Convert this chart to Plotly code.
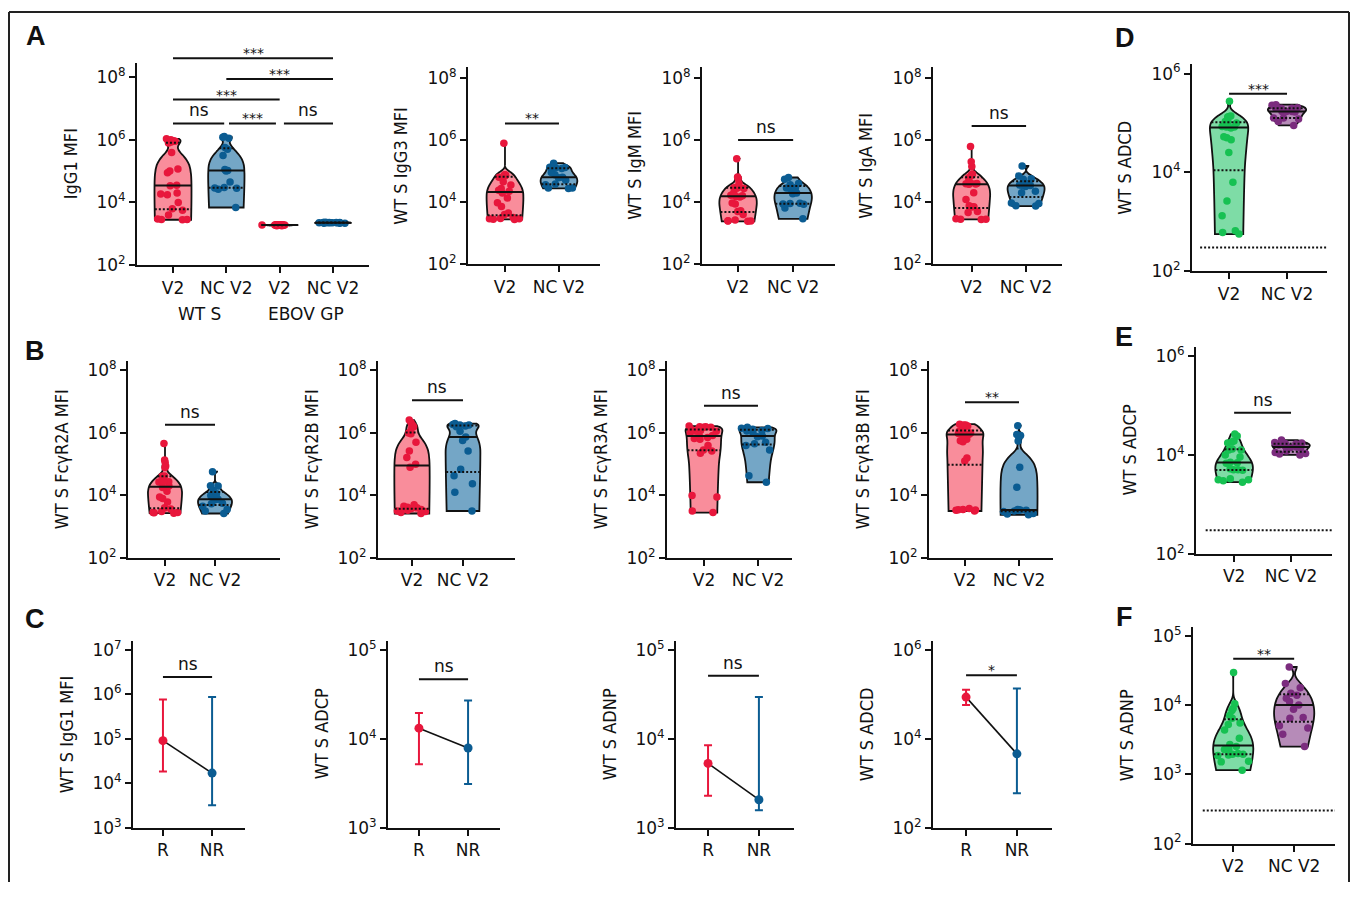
import numpy as np
import plotly.graph_objects as go

# page is 1358x900; the html body has an 8px margin on every side, so the figure
# itself is drawn in a 1342x884 box that starts 8px from the page's top-left corner
W, H = 1358, 900
OFF = 8
FW, FH = W - 2 * OFF, H - 2 * OFF

# ------------------------------------------------------------------
# DATA  (log10 of the plotted value)
# ------------------------------------------------------------------
CAT_V2 = ["V2", "NC V2"]
CAT_A1 = ["V2", "NC V2", "V2", "NC V2"]
CAT_C = ["R", "NR"]
A1_GROUP_LABELS = ["WT S", "EBOV GP"]

A_IGG1_WTS_V2 = [6.03, 6.0, 5.97, 5.95, 5.95, 5.93, 5.9, 5.59, 5.07, 5.0, 4.95, 4.55,
                 4.53, 4.3, 4.27, 4.25, 4.0, 3.8, 3.75, 3.6, 3.47, 3.46, 3.46, 3.45]
A_IGG1_WTS_NC = [6.1, 6.08, 6.05, 5.75, 5.7, 5.5, 5.05, 5.02, 5.0, 4.65, 4.48, 4.46, 4.45, 4.42, 3.84]
A_IGG1_EBOV_V2 = [3.27, 3.28, 3.29, 3.27, 3.28, 3.26, 3.29, 3.28, 3.27, 3.28, 3.29, 3.28,
                  3.27, 3.28, 3.26, 3.28, 3.29, 3.27, 3.28, 3.28, 3.27, 3.28, 3.29, 3.28]
A_IGG1_EBOV_NC = [3.35, 3.36, 3.34, 3.35, 3.36, 3.35, 3.37, 3.35, 3.34, 3.36, 3.35, 3.36, 3.35, 3.34, 3.36]
A_IGG3_V2 = [5.89, 4.88, 4.87, 4.86, 4.85, 4.84, 4.8, 4.65, 4.55, 4.44, 4.38, 4.35,
             4.29, 4.13, 3.98, 3.86, 3.65, 3.6, 3.5, 3.47, 3.46, 3.45, 3.46, 3.44]
A_IGG3_NC = [5.25, 5.12, 5.11, 5.1, 5.08, 4.95, 4.88, 4.8, 4.78, 4.7, 4.58, 4.56, 4.45, 4.44, 4.45]
A_IGM_V2 = [5.39, 4.81, 4.76, 4.6, 4.47, 4.46, 4.46, 4.45, 4.44, 4.3, 4.22, 4.2,
            4.18, 4.16, 3.97, 3.94, 3.72, 3.7, 3.6, 3.42, 3.4, 3.39, 3.39, 3.38]
A_IGM_NC = [4.79, 4.73, 4.6, 4.56, 4.46, 4.45, 4.44, 4.29, 4.27, 3.96, 3.95, 3.94, 3.93, 3.81, 3.46]
A_IGA_V2 = [5.79, 5.3, 5.14, 4.9, 4.87, 4.85, 4.78, 4.62, 4.6, 4.6, 4.59, 4.58,
            4.57, 4.3, 4.08, 3.88, 3.85, 3.84, 3.7, 3.66, 3.46, 3.45, 3.45, 3.44]
A_IGA_NC = [5.16, 4.84, 4.75, 4.73, 4.6, 4.55, 4.54, 4.53, 4.5, 4.35, 4.3, 3.97, 3.95, 3.88, 3.87]

B_R2A_V2 = [5.66, 5.13, 5.05, 4.94, 4.89, 4.62, 4.61, 4.45, 4.44, 4.44, 4.43, 4.3,
            4.25, 4.13, 3.95, 3.9, 3.79, 3.6, 3.56, 3.48, 3.45, 3.44, 3.45, 3.43]
B_R2A_NC = [4.76, 4.31, 4.3, 4.16, 4.05, 4.0, 3.96, 3.88, 3.85, 3.75, 3.73, 3.65, 3.55, 3.5, 3.42]
B_R2B_V2 = [6.41, 6.33, 6.25, 6.2, 6.18, 6.05, 6.0, 5.97, 5.7, 5.42, 5.21, 5.0,
            4.9, 3.7, 3.65, 3.62, 3.6, 3.58, 3.55, 3.52, 3.5, 3.48, 3.45, 3.42]
B_R2B_NC = [6.3, 6.27, 6.25, 6.25, 6.22, 6.2, 6.05, 5.87, 5.76, 5.42, 4.84, 4.63, 4.37, 4.1, 3.5]
B_R3A_V2 = [6.22, 6.2, 6.2, 6.18, 6.18, 6.15, 6.1, 6.08, 6.05, 6.05, 6.0, 5.92,
            5.88, 5.85, 5.82, 5.8, 5.6, 5.45, 5.42, 5.35, 4.0, 3.95, 3.5, 3.45]
B_R3A_NC = [6.18, 6.15, 6.14, 6.12, 6.08, 6.06, 6.0, 5.9, 5.88, 5.7, 5.65, 5.6, 5.45, 4.63, 4.42]
B_R3B_V2 = [6.28, 6.25, 6.25, 6.22, 6.2, 6.15, 6.05, 6.02, 6.0, 6.0, 5.98, 5.96,
            5.94, 5.8, 5.75, 5.72, 5.2, 5.1, 3.58, 3.55, 3.53, 3.52, 3.5, 3.54]
B_R3B_NC = [6.23, 5.95, 5.92, 5.74, 4.9, 4.26, 3.55, 3.53, 3.53, 3.52, 3.5, 3.48, 3.42, 3.4, 3.38]

D_ADCD_V2 = [5.44, 5.14, 5.13, 5.12, 5.03, 5.02, 5.0, 4.93, 4.93, 4.92, 4.92,
             4.9, 4.72, 4.7, 4.66, 4.4, 3.8, 3.42, 3.12, 2.82, 2.78, 2.75]
D_ADCD_NC = [5.37, 5.36, 5.31, 5.3, 5.3, 5.3, 5.23, 5.23, 5.23, 5.22, 5.1, 5.1, 5.08, 5.03, 4.95]
E_ADCP_V2 = [4.42, 4.38, 4.28, 4.26, 4.24, 4.12, 4.1, 4.1, 4.0, 3.96, 3.85,
             3.84, 3.83, 3.72, 3.7, 3.7, 3.69, 3.52, 3.5, 3.5, 3.48, 3.45]
E_ADCP_NC = [4.3, 4.25, 4.24, 4.23, 4.22, 4.2, 4.18, 4.16, 4.15, 4.14, 4.08, 4.05, 4.03, 4.02, 4.0]
F_ADNP_V2 = [4.47, 4.02, 3.95, 3.92, 3.85, 3.81, 3.74, 3.72, 3.64, 3.52, 3.43,
             3.4, 3.36, 3.36, 3.3, 3.29, 3.29, 3.28, 3.27, 3.19, 3.18, 3.06]
F_ADNP_NC = [4.55, 4.31, 4.25, 4.17, 4.14, 4.1, 4.05, 4.0, 3.94, 3.82, 3.81, 3.7, 3.67, 3.58, 3.4]

# Panel C: point estimate, lower and upper ends of error bar, [R, NR] (raw values)
C_IGG1_MID = [9.1e4, 1.7e4]
C_IGG1_LO = [1.85e4, 3.2e3]
C_IGG1_HI = [7.7e5, 8.7e5]
C_ADCP_MID = [1.32e4, 7.9e3]
C_ADCP_LO = [5.2e3, 3.1e3]
C_ADCP_HI = [1.95e4, 2.7e4]
C_ADNP_MID = [5.3e3, 2.07e3]
C_ADNP_LO = [2.3e3, 1.58e3]
C_ADNP_HI = [8.5e3, 2.95e4]
C_ADCD_MID = [8.7e4, 4.6e3]
C_ADCD_LO = [5.8e4, 600]
C_ADCD_HI = [1.27e5, 1.35e5]

LOD = 300  # dotted limit-of-detection line in D, E, F

# ------------------------------------------------------------------
# STYLE
# ------------------------------------------------------------------
COL = {
    "red": ("#E8173C", "#F98D9B"),
    "blue": ("#0B5C92", "#74A6C6"),
    "green": ("#16C152", "#7EDCA6"),
    "purple": ("#7B2C7E", "#B68BB8"),
}
TICK_FONT = dict(family="DejaVu Sans, Arial, sans-serif", size=17, color="#111")
TITLE_FONT = dict(family="Liberation Sans Narrow, DejaVu Sans Condensed, Arial Narrow, sans-serif",
                  size=18, color="#111")
LETTER_FONT = dict(family="Liberation Sans, Arial, sans-serif", size=27, color="#111")
BW_FACTOR = 1.0

# panel geometry in page pixels: name, axis-left, axis-right, top, bottom, x range,
# y range (log10), y tick exponents
PANELS = [
    ("A1", 137, 369, 61, 266, (-0.675, 3.675), (2, 8.44), [2, 4, 6, 8]),
    ("A2", 468, 600, 65, 265, (-0.685, 1.76), (2, 8.34), [2, 4, 6, 8]),
    ("A3", 702, 835, 65, 265, (-0.655, 1.76), (2, 8.34), [2, 4, 6, 8]),
    ("A4", 933, 1062, 65, 265, (-0.71, 1.66), (2, 8.34), [2, 4, 6, 8]),
    ("B1", 128, 280, 363, 563, (-0.74, 2.3), (2, 8.31), [2, 4, 6, 8]),
    ("B2", 378, 515, 363, 563, (-0.667, 2.02), (2, 8.31), [2, 4, 6, 8]),
    ("B3", 667, 792, 363, 563, (-0.685, 1.63), (2, 8.31), [2, 4, 6, 8]),
    ("B4", 929, 1053, 363, 563, (-0.667, 1.63), (2, 8.31), [2, 4, 6, 8]),
    ("C1", 133, 245, 647, 837, (-0.61, 1.67), (3, 7.21), [3, 4, 5, 6, 7]),
    ("C2", 388, 500, 647, 837, (-0.63, 1.65), (3, 5.105), [3, 4, 5]),
    ("C3", 676, 794, 647, 837, (-0.63, 1.69), (3, 5.105), [3, 4, 5]),
    ("C4", 933, 1052, 647, 837, (-0.65, 1.69), (2, 6.21), [2, 4, 6]),
    ("D", 1192, 1327, 62, 272, (-0.64, 1.69), (2, 6.19), [2, 4, 6]),
    ("E", 1196, 1332, 349, 559, (-0.67, 1.72), (2, 6.18), [2, 4, 6]),
    ("F", 1193, 1335, 633, 853, (-0.66, 1.67), (2, 5.13), [2, 3, 4, 5]),
]

TITLES = {
    "A1": "IgG1 MFI", "A2": "WT S IgG3 MFI", "A3": "WT S IgM MFI", "A4": "WT S IgA MFI",
    "B1": "WT S FcγR2A MFI", "B2": "WT S FcγR2B MFI", "B3": "WT S FcγR3A MFI", "B4": "WT S FcγR3B MFI",
    "C1": "WT S IgG1 MFI", "C2": "WT S ADCP", "C3": "WT S ADNP", "C4": "WT S ADCD",
    "D": "WT S ADCD", "E": "WT S ADCP", "F": "WT S ADNP",
}

VIOLINS = {
    "A1": [(0, A_IGG1_WTS_V2, "red"), (1, A_IGG1_WTS_NC, "blue"),
           (2, A_IGG1_EBOV_V2, "red"), (3, A_IGG1_EBOV_NC, "blue")],
    "A2": [(0, A_IGG3_V2, "red"), (1, A_IGG3_NC, "blue")],
    "A3": [(0, A_IGM_V2, "red"), (1, A_IGM_NC, "blue")],
    "A4": [(0, A_IGA_V2, "red"), (1, A_IGA_NC, "blue")],
    "B1": [(0, B_R2A_V2, "red"), (1, B_R2A_NC, "blue")],
    "B2": [(0, B_R2B_V2, "red"), (1, B_R2B_NC, "blue")],
    "B3": [(0, B_R3A_V2, "red"), (1, B_R3A_NC, "blue")],
    "B4": [(0, B_R3B_V2, "red"), (1, B_R3B_NC, "blue")],
    "D": [(0, D_ADCD_V2, "green"), (1, D_ADCD_NC, "purple")],
    "E": [(0, E_ADCP_V2, "green"), (1, E_ADCP_NC, "purple")],
    "F": [(0, F_ADNP_V2, "green"), (1, F_ADNP_NC, "purple")],
}

C_DATA = {
    "C1": (C_IGG1_MID, C_IGG1_LO, C_IGG1_HI),
    "C2": (C_ADCP_MID, C_ADCP_LO, C_ADCP_HI),
    "C3": (C_ADNP_MID, C_ADNP_LO, C_ADNP_HI),
    "C4": (C_ADCD_MID, C_ADCD_LO, C_ADCD_HI),
}

# significance brackets: (x0, x1, level in log10 units, label)
BRACKETS = {
    "A1": [(0, 3, 8.6, "***"), (1, 3, 7.94, "***"), (0, 2, 7.28, "***"),
           (0, 0.96, 6.52, "ns"), (1.05, 1.93, 6.52, "***"), (2.08, 3, 6.52, "ns")],
    "A2": [(0, 1, 6.53, "**")], "A3": [(0, 1, 6.0, "ns")], "A4": [(0, 1, 6.45, "ns")],
    "B1": [(0, 1, 6.26, "ns")], "B2": [(0, 1, 7.05, "ns")], "B3": [(0, 1, 6.87, "ns")],
    "B4": [(0, 1, 6.98, "**")],
    "C1": [(0, 1, 6.39, "ns")], "C2": [(0, 1, 4.67, "ns")], "C3": [(0, 1, 4.71, "ns")],
    "C4": [(0, 1, 5.43, "*")],
    "D": [(0, 1, 5.59, "***")], "E": [(0, 1, 4.85, "ns")], "F": [(0, 1, 4.67, "**")],
}

LETTERS = [("A", 36, 33), ("B", 35, 353), ("C", 35, 625), ("D", 1125, 35), ("E", 1124, 339), ("F", 1124, 623)]


def fx(x):
    return (x - OFF) / FW


def fy(y):
    return 1 - (y - OFF) / FH


# ------------------------------------------------------------------
# helpers: the violin density is estimated on the raw (linear) values,
# exactly as plotly does for a log value axis
# ------------------------------------------------------------------
def bandwidth(v):
    v = np.asarray(v, float)
    sd = v.std(ddof=1)
    q1, q3 = np.percentile(v, [25, 75])
    iqr = q3 - q1
    s = min(sd, iqr / 1.349) if iqr > 0 else sd
    return BW_FACTOR * 1.059 * s * len(v) ** -0.2


def kde(v, bw, t):
    v = np.asarray(v, float)
    t = np.atleast_1d(np.asarray(t, float))
    z = (t[:, None] - v[None, :]) / bw
    return np.exp(-0.5 * z ** 2).sum(axis=1) / (np.sqrt(2 * np.pi) * len(v) * bw)


def max_kde(v, bw):
    lo, hi = min(v), max(v)
    dist = hi - lo
    n = int(np.ceil(dist / (bw / 3)))
    step = dist / n
    ts = lo + step * np.arange(n + 1)
    return kde(v, bw, ts).max()


fig = go.Figure()
layout = dict(width=FW, height=FH, margin=dict(l=0, r=0, t=0, b=0),
              paper_bgcolor="white", plot_bgcolor="white", showlegend=False,
              violinmode="overlay")
shapes, annotations = [], []

for i, (name, xl, xr, yt, yb, xrng, yrng, yticks) in enumerate(PANELS):
    sfx = "" if i == 0 else str(i + 1)
    xa, ya = "x" + sfx, "y" + sfx
    xdom = [fx(xl), fx(xr)]
    ydom = [fy(yb), fy(yt)]

    def py(v, ydom=ydom, yrng=yrng):
        return ydom[0] + (v - yrng[0]) / (yrng[1] - yrng[0]) * (ydom[1] - ydom[0])

    if name == "A1":
        cats = CAT_A1
    elif name.startswith("C"):
        cats = CAT_C
    else:
        cats = CAT_V2

    axis_common = dict(showline=True, linecolor="#111", linewidth=2, ticks="outside",
                       ticklen=6, tickwidth=2, tickcolor="#111", showgrid=False,
                       zeroline=False, tickfont=TICK_FONT, fixedrange=True)
    layout["xaxis" + sfx] = dict(axis_common, domain=xdom, anchor=ya, range=list(xrng),
                                 tickmode="array", tickvals=list(range(len(cats))), ticktext=cats)
    layout["yaxis" + sfx] = dict(axis_common, type="log", domain=ydom, anchor=xa, range=list(yrng),
                                 tickmode="array", tickvals=[10.0 ** t for t in yticks],
                                 ticktext=["10<sup>%d</sup>" % t for t in yticks])

    # y-axis title
    annotations.append(dict(text=TITLES[name], textangle=-90, xref="paper", yref="paper",
                            x=fx(xl - 67), y=(ydom[0] + ydom[1]) / 2, showarrow=False,
                            xanchor="center", yanchor="middle", font=TITLE_FONT))

    vw = 0.66 if name in ("D", "E", "F") else 0.68
    if name in VIOLINS:
        line_traces = []
        for pos, logvals, cname in VIOLINS[name]:
            vals = 10.0 ** np.asarray(logvals, float)
            pc, fc = COL[cname]
            bw = bandwidth(vals)
            fig.add_trace(go.Violin(
                x=[pos] * len(vals), y=vals, xaxis=xa, yaxis=ya, width=vw,
                spanmode="hard", bandwidth=bw, scalemode="width", side="both",
                points="all", pointpos=0, jitter=1.0,
                marker=dict(color=pc, size=7.5, line=dict(width=0)),
                fillcolor=fc, line=dict(color="#111", width=1.8),
                box_visible=False, meanline_visible=False, hoverinfo="y",
            ))
            mk = max_kde(vals, bw)
            q1, med, q3 = np.percentile(vals, [25, 50, 75])
            for q, dash in ((q1, "2px,2px"), (q3, "2px,2px"), (med, "solid")):
                hw = float(kde(vals, bw, q)[0] / mk * vw / 2)
                line_traces.append(go.Scatter(
                    x=[pos - hw, pos + hw], y=[q, q], xaxis=xa, yaxis=ya, mode="lines",
                    line=dict(color="#111", width=2, dash=dash), hoverinfo="skip"))
        for tr in line_traces:
            fig.add_trace(tr)

    if name in C_DATA:
        mid, lo, hi = (np.asarray(a, float) for a in C_DATA[name])
        fig.add_trace(go.Scatter(x=[0, 1], y=list(mid), xaxis=xa, yaxis=ya, mode="lines",
                                 line=dict(color="#111", width=1.6), hoverinfo="skip"))
        for k, cname in enumerate(["red", "blue"]):
            pc = COL[cname][0]
            fig.add_trace(go.Scatter(
                x=[k], y=[mid[k]], xaxis=xa, yaxis=ya, mode="markers",
                marker=dict(color=pc, size=9),
                error_y=dict(type="data", symmetric=False, array=[hi[k] - mid[k]],
                             arrayminus=[mid[k] - lo[k]], color=pc, thickness=2, width=4)))

    if name in ("D", "E", "F"):
        yy = py(np.log10(LOD))
        shapes.append(dict(type="line", xref=xa, yref="paper", x0=-0.5, x1=xrng[1],
                           y0=yy, y1=yy, line=dict(color="#111", width=2, dash="2px,2px")))

    for x0, x1, lev, lab in BRACKETS[name]:
        yy = py(lev)
        shapes.append(dict(type="line", xref=xa, yref="paper", x0=x0, x1=x1, y0=yy, y1=yy,
                           line=dict(color="#111", width=2)))
        star = lab.startswith("*")
        annotations.append(dict(text=lab, xref=xa, yref="paper", x=(x0 + x1) / 2, y=yy,
                                xanchor="center", yanchor="bottom", showarrow=False,
                                yshift=-5 if star else 1,
                                font=dict(family="DejaVu Sans, Arial, sans-serif",
                                          size=14 if star else 17, color="#111")))

    if name == "A1":
        for k, lab in enumerate(A1_GROUP_LABELS):
            annotations.append(dict(text=lab, xref=xa, yref="paper", x=2 * k + 0.5,
                                    y=fy(316), xanchor="center", yanchor="middle",
                                    showarrow=False, font=TICK_FONT))

for lab, x, y in LETTERS:
    annotations.append(dict(text="<b>%s</b>" % lab, xref="paper", yref="paper", x=fx(x), y=fy(y),
                            xanchor="center", yanchor="middle", showarrow=False, font=LETTER_FONT))

# outer frame (left, top, right)
for x0, y0, x1, y1 in [(9, 9, 9, 892), (9, 9, 1349, 9), (1349, 9, 1349, 892)]:
    shapes.append(dict(type="line", xref="paper", yref="paper", x0=fx(x0), x1=fx(x1),
                       y0=fy(y0), y1=fy(y1), line=dict(color="#222", width=2)))

layout["shapes"] = shapes
layout["annotations"] = annotations
fig.update_layout(**layout)
fig.write_html("out.html")
